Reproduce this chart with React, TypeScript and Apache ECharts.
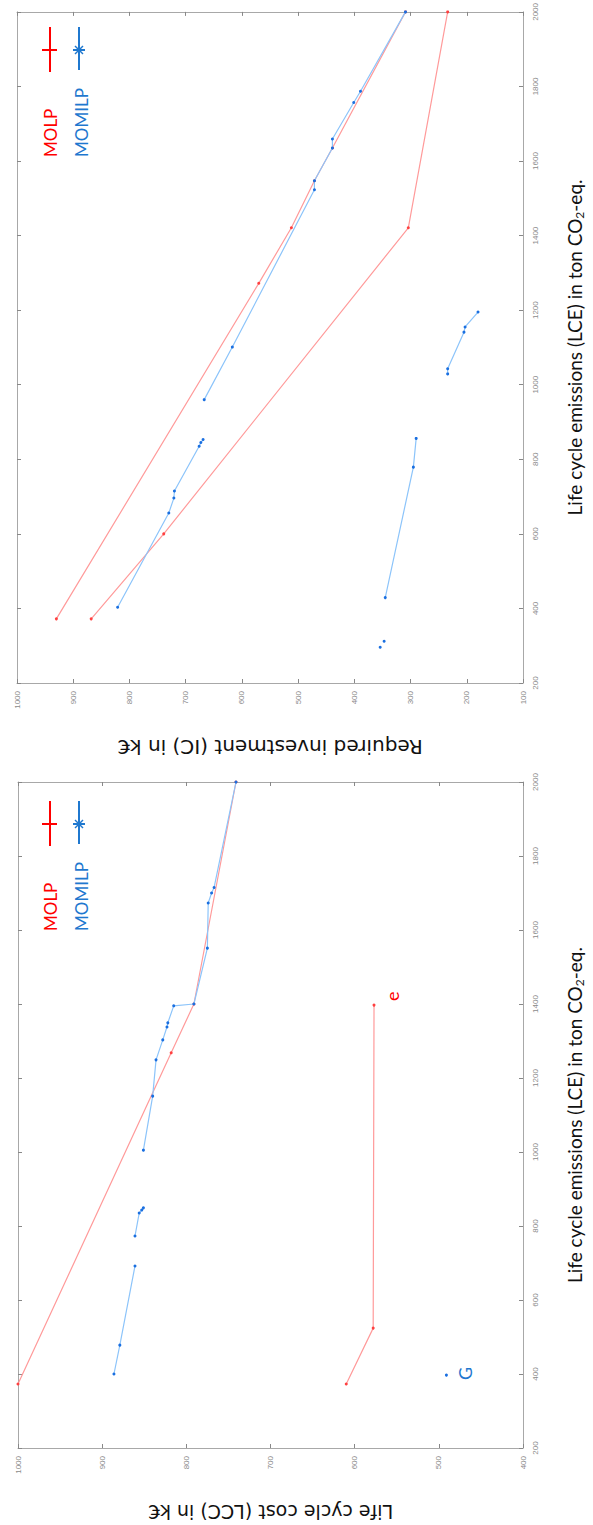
import React, { useEffect, useRef } from "react";
import * as echarts from "echarts";

// ---- Data: pairs of [LCE (ton CO2-eq.), cost (k€)] ----
// Top chart: required investment (IC)
const icMolpUpper: [number, number][] = [
  [372, 930], [1272, 570], [1421, 512], [1547, 471], [1635, 439], [2000, 309],
];
const icMolpLower: [number, number][] = [
  [372, 868], [600, 739], [1421, 304], [2000, 234],
];
const icMomilpSeg1: [number, number][] = [
  [403, 821], [656, 730], [696, 721], [715, 720], [835, 676], [845, 673], [853, 669],
];
const icMomilpSeg2: [number, number][] = [
  [960, 667], [1101, 617], [1523, 471], [1547, 471], [1635, 439], [1659, 439],
  [1757, 401], [1787, 389], [2000, 309],
];
const icMomilpIso: [number, number][] = [[296, 354], [312, 347]];
const icMomilpSeg3: [number, number][] = [[429, 345], [779, 295], [856, 290]];
const icMomilpSeg4: [number, number][] = [
  [1029, 234], [1043, 234], [1141, 205], [1155, 203], [1195, 180],
];

// Bottom chart: life cycle cost (LCC)
const lccMolpUpper: [number, number][] = [
  [373, 1000], [1268, 818], [1400, 791], [2000, 741],
];
const lccMolpLower: [number, number][] = [[373, 610], [524, 578], [1397, 577]];
const lccMomilpSeg1: [number, number][] = [[400, 886], [478, 879], [692, 861]];
const lccMomilpSeg2: [number, number][] = [[773, 861], [835, 856], [843, 853], [849, 851]];
const lccMomilpSeg3: [number, number][] = [
  [1005, 851], [1151, 840], [1249, 836], [1303, 828], [1338, 823], [1349, 822],
  [1395, 815], [1400, 791], [1551, 775], [1673, 774], [1700, 770], [1715, 767], [2000, 741],
];
const lccMomilpG: [number, number][] = [[397, 491]];

// Axis ranges / tick labels
const lceRange = { min: 200, max: 2000, interval: 200 };
const icRange = { min: 100, max: 1000, interval: 100 };
const lccRange = { min: 400, max: 1000, interval: 100 };

const legendNames = ["MOLP", "MOMILP"];
const lceName = "Life cycle emissions (LCE) in ton CO{sub|2}-eq.";
const icName = "Required investment (IC) in k€";
const lccName = "Life cycle cost (LCC) in k€";
const annotE = "e";
const annotG = "G";

const RED = "#ff0000";
const RED_LINE = "#ff9a9a";
const RED_DOT = "#ff4040";
const BLUE = "#1f78cf";
const BLUE_LINE = "#8cc4fa";
const BLUE_DOT = "#1a6fe0";
const AXIS = "#a8a8a8";

const toXY = (arr: [number, number][]) => arr.map(([lce, c]) => [c, lce]);

export default function App() {
  const ref = useRef<HTMLDivElement>(null);
  useEffect(() => {
    document.body.style.margin = "0";
    if (!ref.current) return;
    const chart = echarts.init(ref.current, undefined, { renderer: "svg" });

    const grids = [
      { left: 17, top: 8, width: 517, height: 675 },
      { left: 18, top: 782, width: 515, height: 666 },
    ];

    const tickLabel = {
      rotate: 90,
      fontSize: 8,
      color: "#8a8a8a",
      fontFamily: "Liberation Sans",
      margin: 8,
      formatter: (v: number) => String(v),
    };

    const mkX = (
      gi: number,
      range: any,
      name: string | null,
      pos: "bottom" | "top",
      nameSize = 19
    ) => ({
      type: "value",
      gridIndex: gi,
      ...range,
      inverse: true,
      position: pos,
      axisLine: { show: true, onZero: false, lineStyle: { color: AXIS, width: 1 } },
      axisTick: { show: true, inside: true, length: 4, lineStyle: { color: "#888" } },
      axisLabel: pos === "bottom" ? tickLabel : { show: false },
      splitLine: { show: false },
      name: name || undefined,
      nameLocation: "middle",
      nameGap: 54,
      nameRotate: 180,
      nameTextStyle: { fontSize: nameSize, color: "#111", fontFamily: "DejaVu Sans" },
    });
    const mkY = (gi: number, name: string | null, pos: "left" | "right") => ({
      type: "value",
      gridIndex: gi,
      ...lceRange,
      position: pos,
      axisLine: { show: true, onZero: false, lineStyle: { color: AXIS, width: 1 } },
      axisTick: { show: true, inside: true, length: 4, lineStyle: { color: "#888" } },
      axisLabel: pos === "right" ? tickLabel : { show: false },
      splitLine: { show: false },
      name: name || undefined,
      nameLocation: "middle",
      nameGap: 41,
      nameRotate: 90,
      nameTextStyle: {
        fontSize: 19,
        color: "#111",
        fontFamily: "Lato",
        rich: { sub: { fontSize: 12, fontFamily: "Lato", color: "#111", padding: [9, 0, 0, 0] } },
      },
    });

    const lineSeries = (
      data: [number, number][],
      gi: number,
      kind: "red" | "blue",
      extra: any = {}
    ) => ({
      type: "line",
      xAxisIndex: gi * 2,
      yAxisIndex: gi * 2,
      data: toXY(data),
      symbol: "circle",
      symbolSize: 3,
      showSymbol: true,
      itemStyle: { color: kind === "red" ? RED_DOT : BLUE_DOT },
      lineStyle: { color: kind === "red" ? RED_LINE : BLUE_LINE, width: 1.2 },
      z: kind === "red" ? 2 : 3,
      ...extra,
    });

    const legend = (dy: number) => {
      const els: any[] = [
        { type: "line", shape: { x1: 50, y1: 27 + dy, x2: 50, y2: 72 + dy }, style: { stroke: RED, lineWidth: 2 } },
        { type: "line", shape: { x1: 42, y1: 50 + dy, x2: 57, y2: 50 + dy }, style: { stroke: RED, lineWidth: 2 } },
        { type: "line", shape: { x1: 79, y1: 27 + dy, x2: 79, y2: 70 + dy }, style: { stroke: BLUE, lineWidth: 2 } },
        { type: "line", shape: { x1: 73, y1: 50 + dy, x2: 85, y2: 50 + dy }, style: { stroke: BLUE, lineWidth: 2 } },
        { type: "line", shape: { x1: 75, y1: 46 + dy, x2: 83, y2: 54 + dy }, style: { stroke: BLUE, lineWidth: 1.5 } },
        { type: "line", shape: { x1: 75, y1: 54 + dy, x2: 83, y2: 46 + dy }, style: { stroke: BLUE, lineWidth: 1.5 } },
        {
          type: "text", x: 50, y: 157 + dy, rotation: Math.PI / 2,
          style: { text: legendNames[0], fill: RED, font: "17px Lato", textAlign: "left", textVerticalAlign: "middle" },
        },
        {
          type: "text", x: 81, y: 157 + dy, rotation: Math.PI / 2,
          style: { text: legendNames[1], fill: BLUE, font: "17px Lato", textAlign: "left", textVerticalAlign: "middle" },
        },
      ];
      return els;
    };

    const gPoint = lccMomilpG[0];

    chart.setOption({
      animation: false,
      grid: grids,
      xAxis: [
        mkX(0, icRange, icName, "bottom", 20),
        mkX(0, icRange, null, "top"),
        mkX(1, lccRange, lccName, "bottom", 19),
        mkX(1, lccRange, null, "top"),
      ],
      yAxis: [
        mkY(0, lceName, "right"),
        mkY(0, null, "left"),
        mkY(1, lceName, "right"),
        mkY(1, null, "left"),
      ],
      series: [
        lineSeries(icMolpUpper, 0, "red"),
        lineSeries(icMolpLower, 0, "red"),
        lineSeries(icMomilpSeg1, 0, "blue"),
        lineSeries(icMomilpSeg2, 0, "blue"),
        lineSeries(icMomilpIso, 0, "blue", { lineStyle: { width: 0 } }),
        lineSeries(icMomilpSeg3, 0, "blue"),
        lineSeries(icMomilpSeg4, 0, "blue"),
        lineSeries(lccMolpUpper, 1, "red"),
        {
          ...lineSeries(lccMolpLower, 1, "red"),
          data: lccMolpLower.map(([lce, c], i) =>
            i === lccMolpLower.length - 1
              ? {
                  value: [c, lce],
                  label: {
                    show: true, formatter: annotE, rotate: 90, position: "right", distance: 10,
                    color: RED, fontSize: 18, fontFamily: "Lato", offset: [4, 6],
                  },
                }
              : [c, lce]
          ),
        },
        lineSeries(lccMomilpSeg1, 1, "blue"),
        lineSeries(lccMomilpSeg2, 1, "blue"),
        lineSeries(lccMomilpSeg3, 1, "blue"),
        {
          ...lineSeries(lccMomilpG, 1, "blue"),
          data: [
            {
              value: [gPoint[1], gPoint[0]],
              label: {
                show: true, formatter: annotG, rotate: 90, position: "right", distance: 8,
                color: BLUE, fontSize: 18, fontFamily: "Lato", offset: [-5, 9],
              },
            },
          ],
        },
      ],
      graphic: [...legend(0), ...legend(774)],
    });
    return () => chart.dispose();
  }, []);
  return <div ref={ref} style={{ width: 593, height: 1525 }} />;
}
